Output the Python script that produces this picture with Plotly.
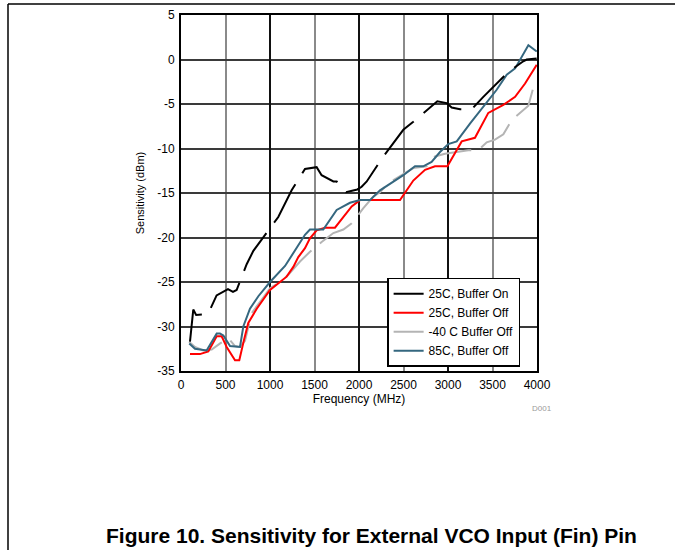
import plotly.graph_objects as go

# ---- data ----
freq_on = [101, 138, 170, 303, 400, 528, 584, 625, 738, 813, 1093, 1169, 1243, 1393,
           1524, 1580, 1637, 1712, 1749, 1787, 1854, 1981, 2030, 2087, 2273, 2386,
           2498, 2610, 2742, 2880, 2985, 3041, 3135, 3266, 3397, 3678, 3846, 3884, 3996]
sens_on = [-31.7, -28.1, -28.7, -28.6, -26.5, -25.8, -26.1, -25.9, -23.0, -21.5, -17.7,
           -16.2, -14.7, -12.3, -12.1, -13.0, -13.3, -13.7, -13.7, -14.3, -14.9, -14.6,
           -14.3, -13.7, -10.9, -9.4, -7.9, -7.0, -5.9, -4.7, -4.9, -5.4, -5.6, -5.6,
           -4.2, -1.4, -0.2, 0.0, 0.1]

freq_off25 = [101, 213, 307, 401, 457, 513, 607, 655, 708, 756, 851, 1000, 1112, 1187,
              1262, 1318, 1393, 1449, 1524, 1618, 1730, 1824, 1918, 2011, 2461, 2610,
              2742, 2854, 2993, 3079, 3154, 3303, 3453, 3622, 3754, 3866, 3997]
sens_off25 = [-33.1, -33.1, -32.8, -31.1, -31.1, -32.3, -33.8, -33.8, -31.5, -29.6, -28.0,
              -25.9, -25.0, -24.4, -23.3, -22.2, -21.2, -20.1, -19.2, -18.9, -18.9, -17.7,
              -16.5, -15.8, -15.8, -13.6, -12.4, -12.0, -12.0, -10.5, -9.2, -8.8, -6.0,
              -5.1, -4.2, -2.7, -0.6]

freq_m40 = [90, 157, 251, 345, 440, 532, 607, 663, 719, 794, 906, 1000, 1112, 1206, 1337,
            1449, 1580, 1712, 1824, 1918, 2049, 2161, 2236, 2329, 2480, 2610, 2760, 2854,
            2966, 3100, 3228, 3341, 3435, 3528, 3622, 3716, 3810, 3903, 3952]
sens_m40 = [-31.7, -32.3, -32.7, -32.6, -31.9, -31.3, -32.2, -32.3, -31.6, -28.5, -27.0,
            -25.7, -25.0, -24.2, -22.7, -21.6, -20.5, -19.5, -19.1, -18.4, -16.7, -15.4,
            -14.9, -13.9, -13.0, -12.2, -12.0, -10.9, -10.6, -10.4, -10.2, -10.2, -9.3,
            -9.0, -8.4, -6.8, -6.0, -5.2, -3.4]

freq_85 = [93, 157, 288, 401, 438, 476, 551, 663, 700, 775, 869, 1000, 1169, 1281, 1393,
           1449, 1599, 1749, 1899, 2011, 2124, 2236, 2386, 2498, 2629, 2722, 2816, 2910,
           3003, 3098, 3247, 3397, 3547, 3660, 3754, 3903, 3997]
sens_85 = [-31.9, -32.5, -32.7, -30.8, -30.8, -31.0, -32.2, -32.3, -30.0, -28.0, -26.6,
           -25.0, -23.2, -21.4, -19.7, -19.1, -19.1, -16.9, -16.1, -15.8, -15.8, -14.7,
           -13.7, -13.0, -12.0, -12.0, -11.5, -10.4, -9.5, -9.2, -7.2, -5.3, -3.4, -1.7,
           -1.0, 1.6, 0.9]

x_ticks = [0, 500, 1000, 1500, 2000, 2500, 3000, 3500, 4000]
y_ticks = [5, 0, -5, -10, -15, -20, -25, -30, -35]

FONT = "Liberation Sans, Arial, sans-serif"

fig = go.Figure()
# invisible carrier trace so the base (labelled) x axis is drawn
fig.add_trace(go.Scatter(x=[x_ticks[0], x_ticks[-1]], y=[None, None], mode="lines",
                         xaxis="x", yaxis="y", showlegend=False, hoverinfo="skip"))
common = dict(mode="lines", xaxis="x2", yaxis="y")
fig.add_trace(go.Scatter(x=freq_m40, y=sens_m40, name="-40 C Buffer Off", legendrank=3,
                         line=dict(color="#b4b4b4", width=2, dash="38px,11px"), **common))
fig.add_trace(go.Scatter(x=freq_off25, y=sens_off25, name="25C, Buffer Off", legendrank=2,
                         line=dict(color="#ff0000", width=2), **common))
fig.add_trace(go.Scatter(x=freq_85, y=sens_85, name="85C, Buffer Off", legendrank=4,
                         line=dict(color="#35677f", width=2), **common))
fig.add_trace(go.Scatter(x=freq_on, y=sens_on, name="25C, Buffer On", legendrank=1,
                         line=dict(color="#000000", width=2, dash="44px,13px"), **common))

fig.update_layout(
    template="none",
    width=675, height=550,
    margin=dict(l=181, r=138, t=15, b=179, autoexpand=False),
    paper_bgcolor="white", plot_bgcolor="white",
    font=dict(family=FONT, size=12, color="black"),
    showlegend=True,
    legend=dict(x=0.579, y=0.262, xanchor="left", yanchor="top",
                bordercolor="black", borderwidth=1.5, bgcolor="white",
                font=dict(size=12), itemwidth=30, tracegroupgap=0),
    xaxis=dict(range=[0, 4000], tickvals=x_ticks, ticktext=[str(v) for v in x_ticks],
               showgrid=True, gridcolor="#8a8a8a", gridwidth=1.5, automargin=False,
               showline=True, linecolor="black", linewidth=2, mirror=True,
               zeroline=False, ticks="outside", ticklen=2, tickcolor="rgba(0,0,0,0)",
               tickfont=dict(size=12),
               title=dict(text="Frequency (MHz)", font=dict(size=12), standoff=2)),
    xaxis2=dict(range=[0, 4000], overlaying="x", anchor="y", dtick=1000, automargin=False,
                showticklabels=False, showgrid=True, gridcolor="#111111", gridwidth=1.5,
                showline=False, zeroline=False, ticks=""),
    yaxis=dict(range=[-35, 5], tickvals=y_ticks, ticktext=[str(v) for v in y_ticks],
               showgrid=True, gridcolor="#3a3a3a", gridwidth=1.5, automargin=False,
               showline=True, linecolor="black", linewidth=2, mirror=True,
               zeroline=False, ticks="outside", ticklen=2, tickcolor="rgba(0,0,0,0)",
               tickfont=dict(size=12),
               title=dict(text="Sensitivity (dBm)", font=dict(size=11), standoff=10)),
)

fig.add_annotation(text="<b>Figure 10. Sensitivity for External VCO Input (Fin) Pin</b>",
                   xref="paper", yref="paper", x=(371.5 - 181) / 356, y=(371 - 535) / 356,
                   xanchor="center", yanchor="middle", showarrow=False,
                   font=dict(size=21, color="black", family=FONT))
fig.add_annotation(text="D001", xref="paper", yref="paper", x=(554 - 181) / 356,
                   y=(371 - 408) / 356, xanchor="right", yanchor="middle", showarrow=False,
                   font=dict(size=8, color="#9a9a9a"))

# page frame lines (left and top)
pw = 356.0
fig.add_shape(type="line", xref="paper", yref="paper",
              x0=(8 - 181) / pw, x1=(8 - 181) / pw, y0=(371 - 4) / pw, y1=(371 - 560) / pw,
              line=dict(color="black", width=1.5))
fig.add_shape(type="line", xref="paper", yref="paper",
              x0=(8 - 181) / pw, x1=(680 - 181) / pw, y0=(371 - 4) / pw, y1=(371 - 4) / pw,
              line=dict(color="black", width=1.5))

fig.write_html("out.html", config={"displayModeBar": False},
               post_script="document.body.style.margin='0';document.body.style.overflow='hidden';")
